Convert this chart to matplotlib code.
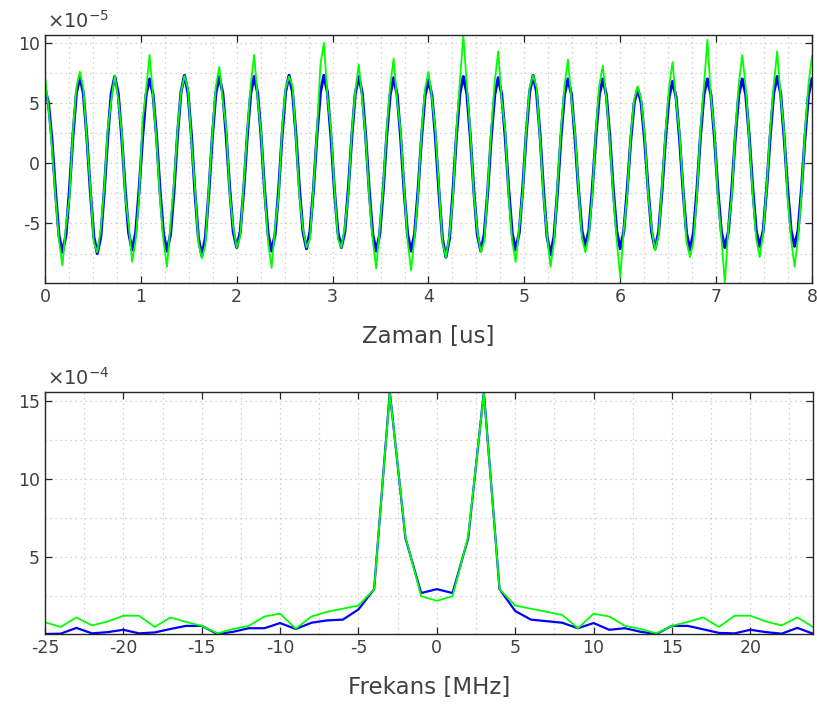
import numpy as np
import matplotlib
matplotlib.use("Agg")
import matplotlib.pyplot as plt
from matplotlib.ticker import MultipleLocator

plt.rcParams['font.family'] = ['DejaVu Sans']
plt.rcParams['axes.unicode_minus'] = False

# --- ust grafik: zaman sinyali (x 1e-5), ornek araligi dt ---
dt = 8.0 / 220  # us
mavi = [
    6.2, 5.0, 1.9, -2.3, -6.0, -7.4, -6.0, -2.3, 2.2, 5.8,
    7.2, 5.8, 2.2, -2.3, -6.1, -7.5, -6.1, -2.3, 2.2, 5.8,
    7.2, 5.8, 2.2, -2.2, -5.8, -7.2, -5.8, -2.2, 2.2, 5.7,
    7.0, 5.7, 2.2, -2.3, -5.9, -7.3, -5.9, -2.3, 2.3, 5.9,
    7.3, 5.9, 2.3, -2.4, -6.2, -7.7, -6.2, -2.4, 2.2, 5.8,
    7.2, 5.8, 2.2, -2.2, -5.7, -7.0, -5.7, -2.2, 2.2, 5.8,
    7.2, 5.8, 2.2, -2.3, -5.9, -7.3, -5.9, -2.3, 2.3, 5.9,
    7.3, 5.9, 2.3, -2.2, -5.7, -7.1, -5.7, -2.2, 2.3, 5.9,
    7.3, 5.9, 2.3, -2.2, -5.7, -7.0, -5.7, -2.2, 2.2, 5.8,
    7.2, 5.8, 2.2, -2.3, -5.9, -7.3, -5.9, -2.3, 2.2, 5.7,
    7.1, 5.7, 2.2, -2.3, -5.9, -7.3, -5.9, -2.3, 2.1, 5.6,
    6.9, 5.6, 2.1, -2.4, -6.3, -7.8, -6.3, -2.4, 2.2, 5.8,
    7.2, 5.8, 2.2, -2.3, -5.9, -7.3, -5.9, -2.3, 2.2, 5.7,
    7.1, 5.7, 2.2, -2.2, -5.8, -7.2, -5.8, -2.2, 2.3, 5.9,
    7.3, 5.9, 2.3, -2.3, -6.1, -7.6, -6.1, -2.3, 2.2, 5.7,
    7.0, 5.7, 2.2, -2.1, -5.6, -6.9, -5.6, -2.1, 2.2, 5.7,
    7.0, 5.7, 2.2, -2.2, -5.7, -7.1, -5.7, -2.2, 1.9, 5.0,
    6.2, 5.0, 1.9, -2.2, -5.7, -7.1, -5.7, -2.2, 2.1, 5.5,
    6.8, 5.5, 2.1, -2.2, -5.8, -7.2, -5.8, -2.2, 2.2, 5.7,
    7.0, 5.7, 2.2, -2.2, -5.7, -7.0, -5.7, -2.2, 2.2, 5.7,
    7.0, 5.7, 2.2, -2.1, -5.6, -6.9, -5.6, -2.1, 2.2, 5.8,
    7.2, 5.8, 2.2, -2.1, -5.6, -6.9, -5.6, -2.1, 2.2, 5.7,
    7.0,
]
yesil = [
    7.3, 4.6, 1.3, -2.8, -6.4, -8.5, -5.2, -2.9, 2.6, 6.3,
    7.6, 6.2, 2.0, -2.0, -6.6, -7.4, -5.5, -2.0, 2.8, 5.2,
    7.3, 5.3, 2.6, -2.7, -5.1, -8.2, -6.4, -2.7, 3.6, 6.1,
    9.0, 5.5, 1.8, -3.0, -6.5, -8.6, -5.0, -1.7, 2.7, 5.9,
    7.25, 6.2, 1.8, -2.0, -6.6, -7.9, -6.8, -2.0, 2.5, 6.4,
    8.0, 5.2, 2.8, -2.6, -5.3, -7.0, -6.1, -1.8, 2.6, 6.5,
    9.0, 5.4, 2.4, -2.5, -6.6, -8.7, -5.3, -2.7, 2.8, 6.2,
    7.2, 6.4, 2.0, -2.8, -5.5, -7.0, -6.3, -2.0, 2.6, 8.2,
    10.0, 5.6, 2.9, -2.0, -6.3, -7.0, -5.3, -2.6, 2.6, 6.0,
    8.2, 5.3, 2.0, -2.8, -6.4, -8.75, -5.5, -1.9, 2.7, 6.4,
    8.7, 5.2, 2.7, -2.0, -6.5, -8.9, -6.2, -2.6, 2.5, 6.2,
    7.6, 5.4, 2.6, -2.0, -6.6, -7.8, -6.0, -2.8, 2.7, 6.8,
    10.65, 6.4, 2.5, -2.6, -5.6, -7.4, -6.5, -2.0, 2.8, 6.8,
    9.3, 5.2, 2.7, -2.8, -6.5, -8.2, -5.4, -2.5, 2.6, 6.3,
    7.3, 6.3, 2.0, -2.7, -6.0, -8.6, -6.6, -1.9, 2.8, 6.4,
    8.6, 5.3, 2.6, -2.0, -6.2, -7.4, -6.0, -2.5, 2.7, 6.5,
    8.1, 5.4, 1.8, -2.7, -6.4, -9.5, -5.6, -2.6, 2.3, 5.3,
    6.4, 5.3, 2.3, -2.6, -5.4, -7.25, -6.0, -1.8, 2.6, 6.3,
    8.4, 5.2, 2.5, -2.0, -6.5, -7.8, -6.5, -2.6, 2.7, 6.4,
    10.25, 5.5, 2.6, -2.8, -6.2, -9.95, -5.4, -2.7, 2.6, 6.6,
    9.0, 6.3, 2.0, -2.6, -6.3, -7.8, -5.8, -2.0, 2.8, 6.4,
    9.3, 5.6, 2.6, -2.8, -6.3, -8.6, -6.2, -2.5, 2.7, 6.6,
    8.9,
]

# --- alt grafik: spektrum (x 1e-4) ---
frekans = list(range(-25, 25))  # MHz
spek_mavi = [
    0.08, 0.1, 0.47, 0.12, 0.2, 0.35, 0.12, 0.18, 0.4, 0.6,
    0.6, 0.08, 0.22, 0.45, 0.45, 0.78, 0.4, 0.8, 0.95, 1.0,
    1.65, 2.95, 15.56, 6.2, 2.7, 2.95, 2.7, 6.2, 15.56, 2.95,
    1.55, 1.0, 0.9, 0.8, 0.45, 0.78, 0.35, 0.45, 0.22, 0.08,
    0.6, 0.6, 0.38, 0.15, 0.12, 0.35, 0.2, 0.1, 0.47, 0.1,
]
spek_yesil = [
    0.83, 0.53, 1.14, 0.63, 0.88, 1.25, 1.25, 0.53, 1.14, 0.85,
    0.6, 0.12, 0.4, 0.6, 1.2, 1.38, 0.42, 1.2, 1.5, 1.7,
    1.9, 2.95, 15.5, 6.3, 2.5, 2.2, 2.5, 6.3, 15.5, 2.95,
    1.9, 1.7, 1.5, 1.3, 0.45, 1.38, 1.2, 0.6, 0.4, 0.12,
    0.6, 0.85, 1.14, 0.53, 1.25, 1.25, 0.88, 0.63, 1.14, 0.53,
]

zaman = np.arange(len(mavi)) * dt

metin = '#404040'
izgara = '#c4c4c4'

def eksen_ayarla(ax):
    ax.grid(True, which='both', linestyle=(0, (1, 3)), color=izgara, linewidth=0.9)
    ax.tick_params(which='major', direction='in', length=5, top=True, right=True,
                   labelsize=12.5, colors='#262626', labelcolor=metin, width=0.9)
    ax.tick_params(which='minor', length=0, top=True, right=True)
    for s in ax.spines.values():
        s.set_color('#262626')
        s.set_linewidth(1.0)
    ax.set_axisbelow(True)

fig = plt.figure(figsize=(8.17, 7.08), dpi=100)

ax1 = fig.add_axes([45/817, 1 - 283/708, 767/817, 248/708])
ax1.plot(zaman, mavi, color='#0000ff', linewidth=2.2)
ax1.plot(zaman, yesil, color='#00ff00', linewidth=1.3)
ax1.set_xlim(zaman[0], zaman[-1])
ax1.set_ylim(min(yesil), max(yesil))
ax1.xaxis.set_major_locator(MultipleLocator(1))
ax1.xaxis.set_minor_locator(MultipleLocator(0.25))
ax1.set_yticks([-5, 0, 5, 10])
ax1.yaxis.set_minor_locator(MultipleLocator(2.5))
eksen_ayarla(ax1)
ax1.set_xlabel('Zaman [us]', fontsize=16.5, color=metin, labelpad=14)
ax1.text(0.003, 1.012, r'$\times\mathregular{10^{-5}}$', transform=ax1.transAxes,
         fontsize=14, color=metin, ha='left', va='bottom')

ax2 = fig.add_axes([45/817, 1 - 634/708, 768/817, 242/708])
ax2.plot(frekans, spek_mavi, color='#0000ff', linewidth=1.6)
ax2.plot(frekans, spek_yesil, color='#00ff00', linewidth=1.3)
ax2.set_xlim(frekans[0], frekans[-1])
ax2.set_ylim(min(spek_mavi), max(spek_mavi))
ax2.xaxis.set_major_locator(MultipleLocator(5))
ax2.xaxis.set_minor_locator(MultipleLocator(2.5))
ax2.set_yticks([5, 10, 15])
ax2.yaxis.set_minor_locator(MultipleLocator(2.5))
eksen_ayarla(ax2)
ax2.set_xlabel('Frekans [MHz]', fontsize=16.5, color=metin, labelpad=14)
ax2.text(0.003, 1.012, r'$\times\mathregular{10^{-4}}$', transform=ax2.transAxes,
         fontsize=14, color=metin, ha='left', va='bottom')

fig.savefig('out.png', dpi=100)
